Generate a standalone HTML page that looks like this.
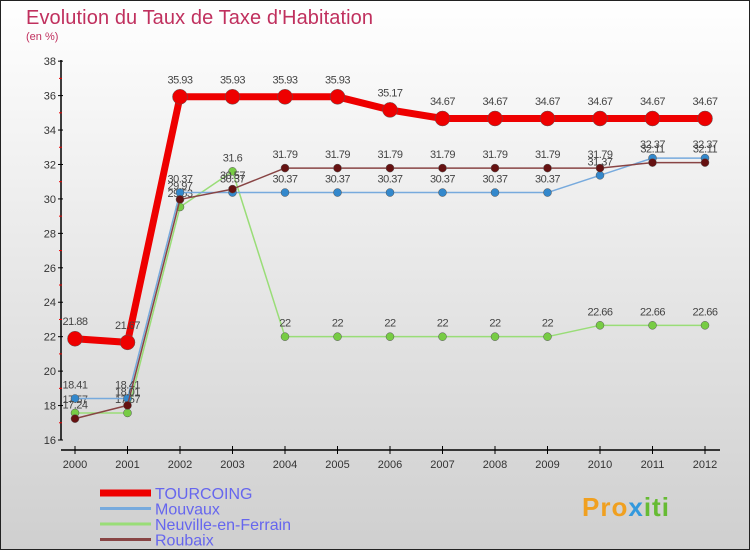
<!DOCTYPE html>
<html><head><meta charset="utf-8"><style>
body{margin:0;width:750px;height:550px;overflow:hidden;font-family:"Liberation Sans",sans-serif}
</style></head><body>
<svg id="chart" width="750" height="550" xmlns="http://www.w3.org/2000/svg" style="display:block">
<defs><linearGradient id="bg" x1="0" y1="0" x2="0" y2="1"><stop offset="0" stop-color="#ffffff"/><stop offset="1" stop-color="#cfcfcf"/></linearGradient></defs>
<rect x="0.5" y="0.5" width="749" height="549" fill="url(#bg)" stroke="#222" stroke-width="1"/>
<text x="26" y="24" font-size="20" fill="#c0305e" textLength="347">Evolution du Taux de Taxe d'Habitation</text>
<text x="26" y="40" font-size="11" fill="#c0305e">(en %)</text>
<g id="axes"></g><g id="series"></g><g id="legend"></g>
<text x="582" y="516" font-size="26" font-weight="bold" fill="#f0a020" letter-spacing="1">Pro<tspan fill="#3399dd">x</tspan><tspan fill="#66bb33">iti</tspan></text>
</svg>
<script>
const years=[2000,2001,2002,2003,2004,2005,2006,2007,2008,2009,2010,2011,2012];
const yTicks=[16,18,20,22,24,26,28,30,32,34,36,38];
const tourcoing=[21.88,21.67,35.93,35.93,35.93,35.93,35.17,34.67,34.67,34.67,34.67,34.67,34.67];
const mouvaux=[18.41,18.41,30.37,30.37,30.37,30.37,30.37,30.37,30.37,30.37,31.37,32.37,32.37];
const neuville=[17.57,17.57,29.53,31.6,22,22,22,22,22,22,22.66,22.66,22.66];
const roubaix=[17.24,18.01,29.97,30.57,31.79,31.79,31.79,31.79,31.79,31.79,31.79,32.11,32.11];
const NS='http://www.w3.org/2000/svg';
const x=i=>75+i*52.5;
const y=v=>440-(v-16)*17.22;
function mk(tag,attrs,parent,txt){const e=document.createElementNS(NS,tag);for(const k in attrs)e.setAttribute(k,attrs[k]);if(txt!==undefined)e.textContent=txt;parent.appendChild(e);return e;}
const ax=document.getElementById('axes');
let e=mk('line',{x1:61,y1:60,x2:61,y2:440,stroke:'#000','stroke-width':1.5},ax);

e=mk('line',{x1:61,y1:450,x2:720,y2:450,stroke:'#000','stroke-width':1.5},ax);

yTicks.forEach(t=>{
 e=mk('line',{x1:58,y1:y(t),x2:63,y2:y(t),stroke:'#000'},ax);
 
 e=mk('text',{x:56,y:y(t)+4,'font-size':11,fill:'#333','text-anchor':'end'},ax,t);
 
 if(t<38){e=mk('line',{x1:59,y1:y(t+1),x2:62,y2:y(t+1),stroke:'#e00'},ax);
 }
});
years.forEach((yr,i)=>{
 e=mk('line',{x1:x(i),y1:446,x2:x(i),y2:454,stroke:'#000'},ax);
 
 e=mk('text',{x:x(i),y:468,'font-size':11,fill:'#333','text-anchor':'middle'},ax,yr);
 
});
const sg=document.getElementById('series');
function series(name,vals,color,w,r,dot){
 const g=mk('g',{},sg);
 
 let p=mk('polyline',{points:vals.map((v,i)=>x(i)+','+y(v)).join(' '),fill:'none',stroke:color,'stroke-width':w,'stroke-linejoin':'round'},g);
 
 vals.forEach((v,i)=>{
  let c=mk('circle',{cx:x(i),cy:y(v),r:r,fill:dot,stroke:'#555','stroke-width':0.5},g);
  
  let t=mk('text',{x:x(i),y:y(v)-(r+6),'font-size':11,fill:'#444','text-anchor':'middle','letter-spacing':'-0.5'},g,String(v));
  
 });
}
series('neuville',neuville,'#99dd77',1.5,4,'#77cc44');
series('mouvaux',mouvaux,'#77aadd',1.5,4,'#3388cc');
series('roubaix',roubaix,'#884444',1.5,4,'#661111');
series('tourcoing',tourcoing,'#ee0000',7,7.5,'#ee0000');
const lg=document.getElementById('legend');
const legendNames=['TOURCOING','Mouvaux','Neuville-en-Ferrain','Roubaix'];
const legendColors=['#ee0000','#77aadd','#99dd77','#884444'];
const legendW=[7,3,3,3];
legendNames.forEach((n,i)=>{
 const yy=493+i*15.5;
 let l=mk('line',{x1:100,y1:yy,x2:151,y2:yy,stroke:legendColors[i],'stroke-width':legendW[i]},lg);
 
 let t=mk('text',{x:155,y:yy+6,'font-size':16,fill:'#6666ee'},lg,n);
 
});
</script>
</body></html>
